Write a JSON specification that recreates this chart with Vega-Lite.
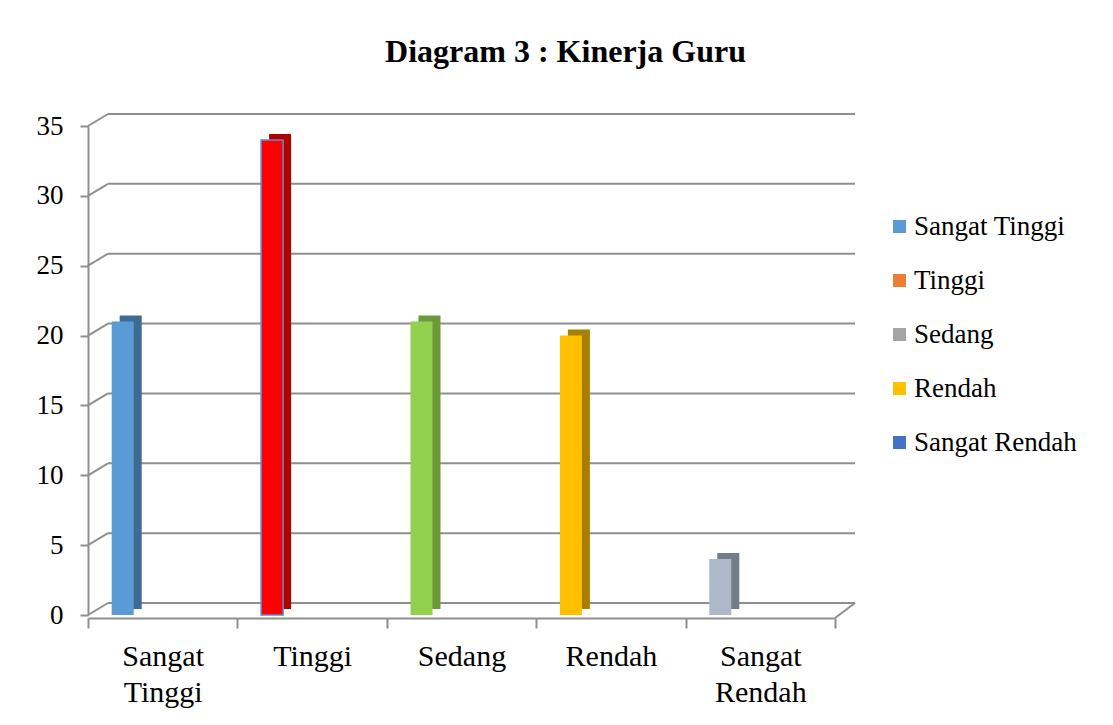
{
  "$schema": "https://vega.github.io/schema/vega-lite/v6.json",
  "width": 747,
  "height": 489,
  "autosize": {"type": "none"},
  "padding": {"left": 88, "top": 126, "right": 278, "bottom": 110},
  "background": "white",
  "config": {
    "view": {"stroke": null},
    "font": "Liberation Serif"
  },
  "title": {"text": "Diagram 3 : Kinerja Guru", "font": "Liberation Serif", "fontSize": 32, "fontWeight": "bold", "color": "#000000", "anchor": "middle", "frame": "group", "dx": 104, "offset": 18, "baseline": "alphabetic"},
  "datasets": {
    "kinerja": [
      {"kategori": "Sangat Tinggi", "nilai": 21},
      {"kategori": "Tinggi", "nilai": 34},
      {"kategori": "Sedang", "nilai": 21},
      {"kategori": "Rendah", "nilai": 20},
      {"kategori": "Sangat Rendah", "nilai": 4}
    ],
    "grid": [
      {"nilai": 0}, {"nilai": 5}, {"nilai": 10}, {"nilai": 15},
      {"nilai": 20}, {"nilai": 25}, {"nilai": 30}, {"nilai": 35}
    ]
  },
  "layer": [
    {
      "data": {"name": "grid"},
      "layer": [
        {
          "mark": {"type": "rule", "color": "#8f8f8f", "strokeWidth": 2, "xOffset": 20, "x2Offset": 20, "yOffset": -12},
          "encoding": {
            "x": {"datum": 0, "type": "quantitative", "scale": {"domain": [0, 1], "nice": false, "zero": false}, "axis": null},
            "x2": {"datum": 1},
            "y": {"field": "nilai", "type": "quantitative", "scale": {"domain": [0, 35], "nice": false}, "axis": {"title": null, "values": [0, 5, 10, 15, 20, 25, 30, 35], "domainColor": "#8f8f8f", "domainWidth": 2, "tickColor": "#8f8f8f", "tickWidth": 2, "tickSize": 8, "labelFontSize": 27, "labelFont": "Liberation Serif", "labelColor": "#000000", "labelPadding": 17, "grid": false}}
          }
        },
        {
          "mark": {"type": "rule", "color": "#8f8f8f", "strokeWidth": 2, "x2Offset": 20, "y2Offset": -12},
          "encoding": {
            "x": {"datum": 0, "type": "quantitative", "scale": {"domain": [0, 1], "nice": false, "zero": false}, "axis": null},
            "x2": {"datum": 0},
            "y": {"field": "nilai", "type": "quantitative", "scale": {"domain": [0, 35], "nice": false}, "axis": {"title": null, "values": [0, 5, 10, 15, 20, 25, 30, 35], "domainColor": "#8f8f8f", "domainWidth": 2, "tickColor": "#8f8f8f", "tickWidth": 2, "tickSize": 8, "labelFontSize": 27, "labelFont": "Liberation Serif", "labelColor": "#000000", "labelPadding": 17, "grid": false}},
            "y2": {"field": "nilai"}
          }
        },
        {
          "transform": [{"filter": "datum.nilai === 0"}],
          "mark": {"type": "rule", "color": "#8f8f8f", "strokeWidth": 2, "x2Offset": 20, "y2Offset": -12, "yOffset": 3},
          "encoding": {
            "x": {"datum": 1, "type": "quantitative", "scale": {"domain": [0, 1], "nice": false, "zero": false}, "axis": null},
            "x2": {"datum": 1},
            "y": {"field": "nilai", "type": "quantitative", "scale": {"domain": [0, 35], "nice": false}, "axis": {"title": null, "values": [0, 5, 10, 15, 20, 25, 30, 35], "domainColor": "#8f8f8f", "domainWidth": 2, "tickColor": "#8f8f8f", "tickWidth": 2, "tickSize": 8, "labelFontSize": 27, "labelFont": "Liberation Serif", "labelColor": "#000000", "labelPadding": 17, "grid": false}},
            "y2": {"field": "nilai"}
          }
        }
      ]
    },
    {
      "data": {"name": "kinerja"},
      "encoding": {
        "x": {
          "field": "kategori", "type": "nominal", "sort": null,
          "scale": {"domain": ["Sangat Tinggi", "Tinggi", "Sedang", "Rendah", "Sangat Rendah"], "paddingInner": 0, "paddingOuter": 0},
          "axis": {"title": null, "domainColor": "#8f8f8f", "domainWidth": 2, "tickColor": "#8f8f8f", "tickWidth": 2, "tickSize": 10, "tickBand": "extent", "labelAngle": 0, "labelFontSize": 30, "labelFont": "Liberation Serif", "labelColor": "#000000", "labelPadding": 13, "labelLineHeight": 36, "labelExpr": "split(datum.label, ' ')", "offset": 3}
        }
      },
      "layer": [
        {
          "mark": {"type": "bar", "width": 22, "xOffset": -32, "yOffset": -6, "y2Offset": -4},
          "encoding": {
            "y": {"field": "nilai", "type": "quantitative", "scale": {"domain": [0, 35], "nice": false}, "axis": {"title": null, "values": [0, 5, 10, 15, 20, 25, 30, 35], "domainColor": "#8f8f8f", "domainWidth": 2, "tickColor": "#8f8f8f", "tickWidth": 2, "tickSize": 8, "labelFontSize": 27, "labelFont": "Liberation Serif", "labelColor": "#000000", "labelPadding": 17, "grid": false}},
            "fill": {"field": "kategori", "type": "nominal", "scale": {"domain": ["Sangat Tinggi", "Tinggi", "Sedang", "Rendah", "Sangat Rendah"], "range": ["#3d6b94", "#b00000", "#6b9a3a", "#a87f00", "#737c89"]}, "legend": null}
          }
        },
        {
          "mark": {"type": "bar", "width": 22, "xOffset": -40, "strokeWidth": 1.5},
          "encoding": {
            "y": {"field": "nilai", "type": "quantitative", "scale": {"domain": [0, 35], "nice": false}, "axis": {"title": null, "values": [0, 5, 10, 15, 20, 25, 30, 35], "domainColor": "#8f8f8f", "domainWidth": 2, "tickColor": "#8f8f8f", "tickWidth": 2, "tickSize": 8, "labelFontSize": 27, "labelFont": "Liberation Serif", "labelColor": "#000000", "labelPadding": 17, "grid": false}},
            "fill": {"field": "kategori", "type": "nominal", "scale": {"domain": ["Sangat Tinggi", "Tinggi", "Sedang", "Rendah", "Sangat Rendah"], "range": ["#5b9bd5", "#ff0000", "#92d050", "#ffc000", "#adb9ca"]}, "legend": null},
            "stroke": {"condition": {"test": "datum.kategori === 'Tinggi'", "value": "#5b8fd0"}, "value": "transparent"}
          }
        },
        {
          "mark": {"type": "bar", "width": 22, "xOffset": -40},
          "encoding": {
            "y": {"datum": 0, "type": "quantitative"},
            "y2": {"datum": 0},
            "color": {
              "field": "kategori", "type": "nominal",
              "scale": {"domain": ["Sangat Tinggi", "Tinggi", "Sedang", "Rendah", "Sangat Rendah"], "range": ["#5b9bd5", "#ed7d31", "#a5a5a5", "#ffc000", "#4472c4"]},
              "legend": {"orient": "none", "legendX": 798, "legendY": 87, "title": null, "labelFontSize": 27, "labelFont": "Liberation Serif", "labelColor": "#000000", "labelLimit": 400, "symbolSize": 169, "symbolType": "square", "symbolStrokeWidth": 0, "rowPadding": 26, "labelOffset": 1}
            }
          }
        }
      ],
      "resolve": {"scale": {"fill": "independent", "color": "independent"}}
    }
  ],
  "resolve": {"scale": {"x": "independent"}}
}
